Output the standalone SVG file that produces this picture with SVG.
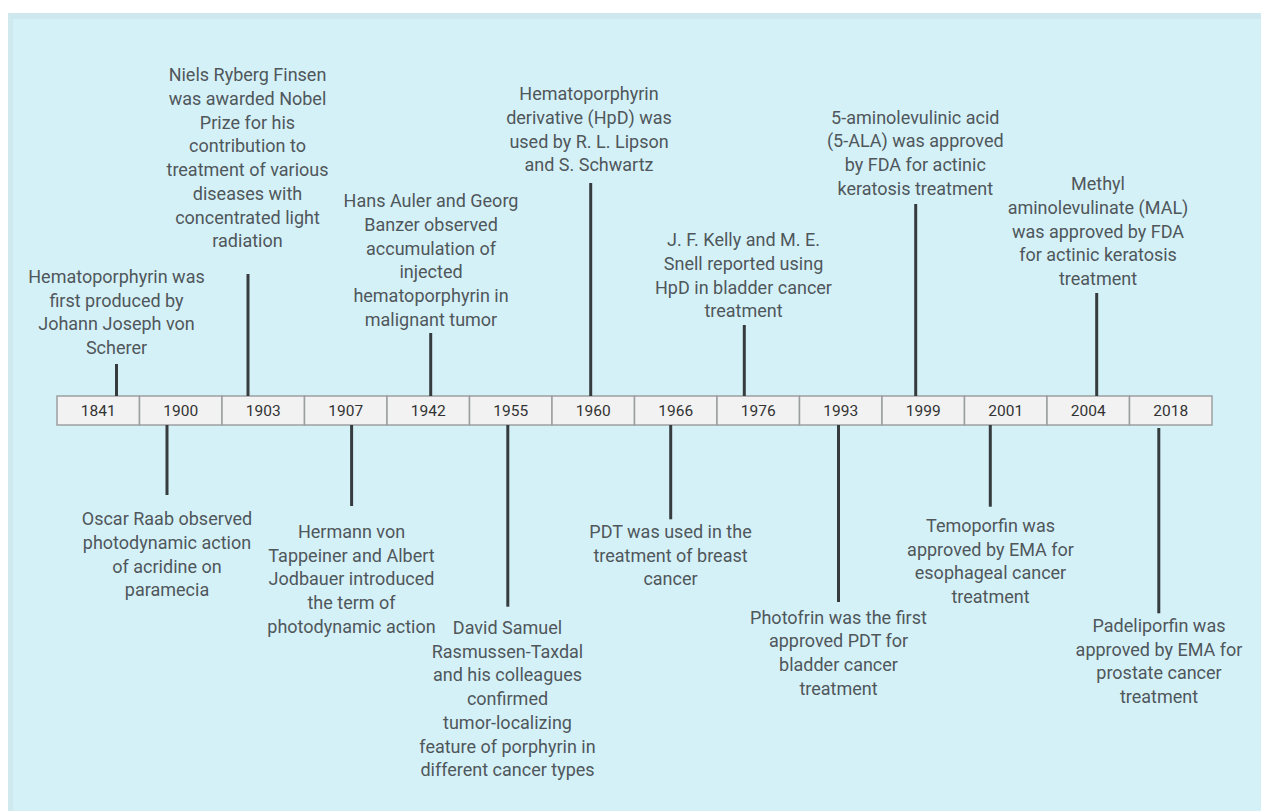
<svg xmlns="http://www.w3.org/2000/svg" width="1261" height="811" viewBox="0 0 1261 811">
<style>
.lbl{font-family:Roboto,"Liberation Sans",sans-serif;font-size:18px;fill:#4f575b;text-anchor:middle}
.yr{font-family:Roboto,"Liberation Sans",sans-serif;font-size:15.5px;fill:#333;text-anchor:middle}
.cell{fill:#f2f2f2;stroke:#9c9fa0;stroke-width:1.5}
.con{stroke:#363b3e;stroke-width:3;fill:none}
</style>
<rect x="0" y="0" width="1261" height="811" fill="#ffffff"/>
<rect x="8" y="13" width="1253" height="798" fill="#d5f1f8"/>
<rect x="8" y="13" width="1253" height="6" fill="#cfe8ef"/>
<rect x="8" y="13" width="5" height="798" fill="#d0e9ef"/>

<g id="timeline">
<rect class="cell" x="57" y="396" width="82.5" height="29"/>
<rect class="cell" x="139.5" y="396" width="82.5" height="29"/>
<rect class="cell" x="222" y="396" width="82.5" height="29"/>
<rect class="cell" x="304.5" y="396" width="82.5" height="29"/>
<rect class="cell" x="387" y="396" width="82.5" height="29"/>
<rect class="cell" x="469.5" y="396" width="82.5" height="29"/>
<rect class="cell" x="552" y="396" width="82.5" height="29"/>
<rect class="cell" x="634.5" y="396" width="82.5" height="29"/>
<rect class="cell" x="717" y="396" width="82.5" height="29"/>
<rect class="cell" x="799.5" y="396" width="82.5" height="29"/>
<rect class="cell" x="882" y="396" width="82.5" height="29"/>
<rect class="cell" x="964.5" y="396" width="82.5" height="29"/>
<rect class="cell" x="1047" y="396" width="82.5" height="29"/>
<rect class="cell" x="1129.5" y="396" width="82.5" height="29"/>
<text class="yr" x="98.3" y="416">1841</text>
<text class="yr" x="180.8" y="416">1900</text>
<text class="yr" x="263.3" y="416">1903</text>
<text class="yr" x="345.8" y="416">1907</text>
<text class="yr" x="428.3" y="416">1942</text>
<text class="yr" x="510.8" y="416">1955</text>
<text class="yr" x="593.3" y="416">1960</text>
<text class="yr" x="675.8" y="416">1966</text>
<text class="yr" x="758.3" y="416">1976</text>
<text class="yr" x="840.8" y="416">1993</text>
<text class="yr" x="923.3" y="416">1999</text>
<text class="yr" x="1005.8" y="416">2001</text>
<text class="yr" x="1088.3" y="416">2004</text>
<text class="yr" x="1170.8" y="416">2018</text>
</g>

<g id="connectors">
<line class="con" x1="116.5" y1="364" x2="116.5" y2="396"/>
<line class="con" x1="248" y1="274" x2="248" y2="396"/>
<line class="con" x1="430.7" y1="333" x2="430.7" y2="396"/>
<line class="con" x1="590.7" y1="183" x2="590.7" y2="396"/>
<line class="con" x1="744.3" y1="325" x2="744.3" y2="396"/>
<line class="con" x1="915.7" y1="204" x2="915.7" y2="396"/>
<line class="con" x1="1096.7" y1="293" x2="1096.7" y2="396"/>
<line class="con" x1="167" y1="425" x2="167" y2="495"/>
<line class="con" x1="351.6" y1="425" x2="351.6" y2="506"/>
<line class="con" x1="507.8" y1="425" x2="507.8" y2="606.7"/>
<line class="con" x1="670.7" y1="425" x2="670.7" y2="519.3"/>
<line class="con" x1="838.5" y1="425" x2="838.5" y2="602"/>
<line class="con" x1="990.3" y1="425" x2="990.3" y2="506.7"/>
<line class="con" x1="1158.8" y1="428" x2="1158.8" y2="613.3"/>
</g>

<g id="e1841"><text class="lbl" y="283"><tspan x="116.5">Hematoporphyrin was</tspan><tspan x="116.5" dy="23.7">first produced by</tspan><tspan x="116.5" dy="23.7">Johann Joseph von</tspan><tspan x="116.5" dy="23.7">Scherer</tspan></text></g>

<g id="e1900"><text class="lbl" y="525.3"><tspan x="167">Oscar Raab observed</tspan><tspan x="167" dy="23.7">photodynamic action</tspan><tspan x="167" dy="23.7">of acridine on</tspan><tspan x="167" dy="23.7">paramecia</tspan></text></g>

<g id="e1903"><text class="lbl" y="81.3"><tspan x="247.5">Niels Ryberg Finsen</tspan><tspan x="247.5" dy="23.7">was awarded Nobel</tspan><tspan x="247.5" dy="23.7">Prize for his</tspan><tspan x="247.5" dy="23.7">contribution to</tspan><tspan x="247.5" dy="23.7">treatment of various</tspan><tspan x="247.5" dy="23.7">diseases with</tspan><tspan x="247.5" dy="23.7">concentrated light</tspan><tspan x="247.5" dy="23.7">radiation</tspan></text></g>

<g id="e1907"><text class="lbl" y="538"><tspan x="351.5">Hermann von</tspan><tspan x="351.5" dy="23.7">Tappeiner and Albert</tspan><tspan x="351.5" dy="23.7">Jodbauer introduced</tspan><tspan x="351.5" dy="23.7">the term of</tspan><tspan x="351.5" dy="23.7">photodynamic action</tspan></text></g>

<g id="e1942"><text class="lbl" y="207.3"><tspan x="431">Hans Auler and Georg</tspan><tspan x="431" dy="23.7">Banzer observed</tspan><tspan x="431" dy="23.7">accumulation of</tspan><tspan x="431" dy="23.7">injected</tspan><tspan x="431" dy="23.7">hematoporphyrin in</tspan><tspan x="431" dy="23.7">malignant tumor</tspan></text></g>

<g id="e1955"><text class="lbl" y="634"><tspan x="507.5">David Samuel</tspan><tspan x="507.5" dy="23.7">Rasmussen-Taxdal</tspan><tspan x="507.5" dy="23.7">and his colleagues</tspan><tspan x="507.5" dy="23.7">confirmed</tspan><tspan x="507.5" dy="23.7">tumor-localizing</tspan><tspan x="507.5" dy="23.7">feature of porphyrin in</tspan><tspan x="507.5" dy="23.7">different cancer types</tspan></text></g>

<g id="e1960"><text class="lbl" y="100.3"><tspan x="589">Hematoporphyrin</tspan><tspan x="589" dy="23.7">derivative (HpD) was</tspan><tspan x="589" dy="23.7">used by R. L. Lipson</tspan><tspan x="589" dy="23.7">and S. Schwartz</tspan></text></g>

<g id="e1966"><text class="lbl" y="538"><tspan x="670.5">PDT was used in the</tspan><tspan x="670.5" dy="23.7">treatment of breast</tspan><tspan x="670.5" dy="23.7">cancer</tspan></text></g>

<g id="e1976"><text class="lbl" y="246.3"><tspan x="743.5">J. F. Kelly and M. E.</tspan><tspan x="743.5" dy="23.7">Snell reported using</tspan><tspan x="743.5" dy="23.7">HpD in bladder cancer</tspan><tspan x="743.5" dy="23.7">treatment</tspan></text></g>

<g id="e1993"><text class="lbl" y="623.6"><tspan x="838.5">Photofrin was the first</tspan><tspan x="838.5" dy="23.7">approved PDT for</tspan><tspan x="838.5" dy="23.7">bladder cancer</tspan><tspan x="838.5" dy="23.7">treatment</tspan></text></g>

<g id="e1999"><text class="lbl" y="123.6"><tspan x="915.3">5-aminolevulinic acid</tspan><tspan x="915.3" dy="23.7">(5-ALA) was approved</tspan><tspan x="915.3" dy="23.7">by FDA for actinic</tspan><tspan x="915.3" dy="23.7">keratosis treatment</tspan></text></g>

<g id="e2001"><text class="lbl" y="532"><tspan x="990.5">Temoporfin was</tspan><tspan x="990.5" dy="23.7">approved by EMA for</tspan><tspan x="990.5" dy="23.7">esophageal cancer</tspan><tspan x="990.5" dy="23.7">treatment</tspan></text></g>

<g id="e2004"><text class="lbl" y="190.3"><tspan x="1098">Methyl</tspan><tspan x="1098" dy="23.7">aminolevulinate (MAL)</tspan><tspan x="1098" dy="23.7">was approved by FDA</tspan><tspan x="1098" dy="23.7">for actinic keratosis</tspan><tspan x="1098" dy="23.7">treatment</tspan></text></g>

<g id="e2018"><text class="lbl" y="632"><tspan x="1159">Padeliporfin was</tspan><tspan x="1159" dy="23.7">approved by EMA for</tspan><tspan x="1159" dy="23.7">prostate cancer</tspan><tspan x="1159" dy="23.7">treatment</tspan></text></g>
</svg>
